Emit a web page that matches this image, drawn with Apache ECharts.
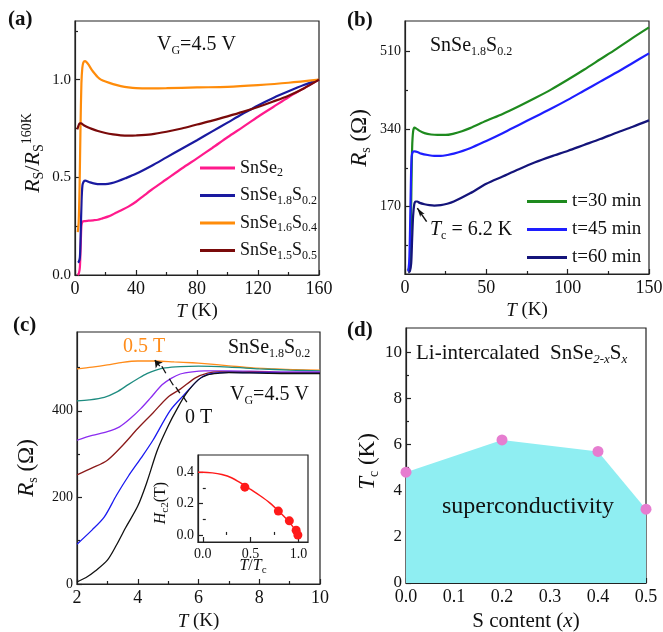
<!DOCTYPE html>
<html><head><meta charset="utf-8">
<script src="https://cdn.jsdelivr.net/npm/echarts@6/dist/echarts.min.js"></script>
<style>html,body{margin:0;padding:0;background:#fff}#c{width:663px;height:632px}</style>
</head><body><div id="c"></div>
<script>
// ---------------- DATA ----------------
// (a) normalized sheet resistance vs T
const aNames = ['SnSe2', 'SnSe1.8S0.2', 'SnSe1.6S0.4', 'SnSe1.5S0.5'];
const aSnSe2 = [[1.8,0.0],[2.6,0.01],[3.2,0.04],[3.7,0.14],[4.2,0.25],[4.8,0.272],[6,0.276],[9,0.278],[12,0.28],[15,0.283],[18,0.29],[22,0.3],[26,0.315],[30,0.33],[35,0.35],[40,0.375],[45,0.405],[50,0.435],[60,0.49],[70,0.545],[80,0.597],[90,0.65],[100,0.705],[110,0.757],[120,0.81],[130,0.86],[140,0.91],[150,0.955],[160,1.0]];
const aS02 = [[1.8,0.065],[2.5,0.068],[3.2,0.09],[3.7,0.2],[4.3,0.38],[4.9,0.46],[5.7,0.478],[6.8,0.483],[8,0.48],[10,0.474],[13,0.468],[16,0.465],[20,0.465],[24,0.47],[28,0.48],[33,0.495],[40,0.518],[50,0.558],[60,0.602],[70,0.646],[80,0.69],[90,0.735],[100,0.78],[110,0.825],[120,0.868],[130,0.906],[140,0.94],[150,0.972],[160,1.0]];
const aS04 = [[1.8,0.22],[2.4,0.27],[3,0.45],[3.6,0.75],[4.2,0.98],[4.8,1.06],[5.5,1.088],[6.5,1.095],[7.5,1.09],[9,1.075],[11,1.05],[13,1.03],[15,1.012],[17,1.0],[20,0.99],[25,0.977],[30,0.967],[35,0.96],[40,0.956],[50,0.955],[60,0.956],[80,0.96],[100,0.963],[120,0.972],[140,0.984],[160,1.0]];
const aS05 = [[1.5,0.745],[2.2,0.762],[3,0.776],[4,0.776],[5.5,0.768],[8,0.758],[11,0.748],[15,0.737],[20,0.727],[25,0.72],[30,0.715],[35,0.713],[40,0.714],[50,0.72],[60,0.733],[70,0.75],[80,0.77],[90,0.79],[100,0.812],[110,0.835],[120,0.86],[130,0.888],[140,0.918],[150,0.955],[160,1.0]];

// (b) Rs vs T for different intercalation times
const bNames = ['t=30 min', 't=45 min', 't=60 min'];
const bT30 = [[2,30],[2.8,40],[3.4,90],[3.9,200],[4.4,300],[5,335],[5.8,343],[7,341],[9,336],[12,331],[16,328],[20,327],[25,327],[30,330],[35,335],[40,342],[50,358],[60,373],[70,390],[80,408],[90,427],[100,448],[110,470],[120,493],[130,516],[140,540],[150,563]];
const bT45 = [[2,28],[2.6,50],[3.1,120],[3.6,220],[4.1,280],[4.8,290],[6,291],[8,289],[10,286],[14,283],[18,281],[22,281],[26,283],[30,286],[40,298],[50,314],[60,331],[70,349],[80,367],[90,385],[100,404],[110,424],[120,444],[130,464],[140,485],[150,506]];
const bT60 = [[2,25],[3,28],[3.8,45],[4.4,100],[5,150],[5.7,175],[6.5,181],[7.5,181],[9,178],[12,175],[15,173],[18,172],[22,173],[26,176],[30,181],[40,199],[50,220],[60,236],[70,252],[80,267],[90,280],[100,292],[110,305],[120,318],[130,332],[140,345],[150,359]];
const bArrow = [[13.3,137],[7.6,166.5]];

// (c) Rs vs T in magnetic field (0.5 T ... 0 T)
const c05T = [[2,497],[2.5,501],[3,506],[3.5,512],[4,515],[4.6,515],[5.2,513],[5.8,511],[6.2,509],[7,504],[7.8,499],[8.5,497],[9.2,495],[10,494]];
const cTeal = [[2,423],[2.4,425],[2.9,431],[3.3,443],[3.7,461],[4.0,474],[4.3,486],[4.6,494],[4.9,499],[5.4,502],[6,503],[7,501],[8,497],[9,494],[10,492]];
const cPurple = [[2,332],[2.5,343],[3,352],[3.4,363],[3.8,385],[4.1,405],[4.4,428],[4.8,460],[5.1,475],[5.4,485],[5.8,490],[6.2,492],[7,492],[8,491],[9,490],[10,490]];
const cMaroon = [[2,252],[2.5,268],[3,286],[3.5,320],[4,359],[4.5,395],[5,432],[5.4,450],[5.9,476],[6.3,487],[6.7,490],[7,490],[8,489],[9,488],[10,488]];
const cBlue = [[2,92],[2.5,125],[2.9,155],[3.3,205],[3.7,250],[4.1,290],[4.5,332],[5.06,400],[5.5,435],[6,472],[6.3,484],[6.7,488],[7,489],[8,488],[9,487],[10,487]];
const c0T = [[2,5],[2.3,15],[2.6,30],[3,55],[3.3,90],[3.6,130],[4,180],[4.3,235],[4.65,310],[5,365],[5.3,405],[5.6,440],[6,472],[6.3,483],[6.7,487],[7,488],[8,487],[9,486],[10,486]];
// Tc markers in (c): first is the arrow at 0.5 T, others short dashes
const cMarks = [
  [[4.726,503],[4.561,516.8]],
  [[4.792,503],[4.924,486.8]],
  [[5.039,474],[5.171,459]],
  [[5.253,454.5],[5.385,440.6]],
  [[5.484,433.7],[5.616,419.9]]
];

// inset: Hc2 vs T/Tc
const insetT = [0.44, 0.79, 0.905, 0.976, 0.994];
const insetH = [0.305, 0.152, 0.09, 0.03, 0.0];
const fitT = [-0.05, 0, 0.1, 0.2, 0.3, 0.4, 0.5, 0.6, 0.7, 0.8, 0.9, 1.0];
const fitH = [0.40, 0.40, 0.396, 0.385, 0.365, 0.33, 0.29, 0.25, 0.205, 0.148, 0.085, 0.005];

// (d) Tc vs S content
const dX = [0.0, 0.2, 0.4, 0.5];
const dTc = [4.8, 6.2, 5.7, 3.2];

// tick values
const aXMajor = [0,40,80,120,160], aXMinor = [20,60,100,140];
const aYMajor = [0,0.5,1.0], aYMinor = [0.25,0.75,1.25];
const bXMajor = [0,50,100,150], bXMinor = [25,75,125];
const bYMajor = [170,340,510], bYMinor = [85,255,425];
const cXMajor = [2,4,6,8,10], cXMinor = [3,5,7,9];
const cYMajor = [0,200,400], cYMinor = [100,300,500];
const dXMajor = [0,0.1,0.2,0.3,0.4,0.5], dXMinor = [0.05,0.15,0.25,0.35,0.45];
const dYMajor = [0,2,4,6,8,10], dYMinor = [1,3,5,7,9];
const iXMajor = [0,0.5,1.0], iXMinor = [0.25,0.75];
const iYMajor = [0,0.2,0.4], iYMinor = [0.1,0.3];

// ---------------- STYLE / BUILD ----------------
const FF = "'Liberation Serif','Times New Roman',serif";
const AX = '#222';
function R(F, s, color) {
  const c = color || '#111';
  const base = {fontFamily: FF, color: c, fontWeight: 'normal'};
  return {
    m: Object.assign({fontSize: F, lineHeight: F + 4}, base),
    i: Object.assign({fontSize: F, lineHeight: F + 4, fontStyle: 'italic'}, base),
    bd: Object.assign({}, base, {fontSize: F, lineHeight: F + 4, fontWeight: 'bold'}),
    b: Object.assign({fontSize: s, lineHeight: s, verticalAlign: 'bottom'}, base),
    bi: Object.assign({fontSize: s, lineHeight: s, verticalAlign: 'bottom', fontStyle: 'italic'}, base),
    p: Object.assign({fontSize: s, lineHeight: s, verticalAlign: 'top'}, base)
  };
}
const f1 = v => v.toFixed(1);

function axisPair(dim, grid, min, max, major, minor, fmt, fs, name) {
  const pos = dim === 'x' ? 'bottom' : 'left';
  const maj = {
    type: 'value', gridIndex: grid, min: min, max: max, position: pos,
    axisLine: {show: true, onZero: false, lineStyle: {color: AX, width: 1.2}},
    axisTick: {show: true, inside: true, length: 5, customValues: major, lineStyle: {color: AX, width: 1.2}},
    minorTick: {show: false},
    axisLabel: {show: true, customValues: major, formatter: fmt || (v => String(v)), fontSize: fs,
      fontFamily: FF, color: '#111', margin: dim === 'x' ? 5 : 4},
    splitLine: {show: false}
  };
  if (name) {
    maj.name = name.text;
    maj.nameLocation = 'middle';
    maj.nameGap = name.gap;
    maj.nameMoveOverlap = false;
    maj.nameTextStyle = {rich: name.rich, padding: name.padding || 0, fontWeight: 'normal'};
    if (dim === 'y') maj.nameRotate = 90;
  }
  const mn = {
    type: 'value', gridIndex: grid, min: min, max: max, position: pos,
    axisLine: {show: false},
    axisTick: {show: true, inside: true, length: 3, customValues: minor, lineStyle: {color: AX, width: 1.2}},
    axisLabel: {show: false}, splitLine: {show: false}
  };
  return [maj, mn];
}

const grids = [
  {left: 75, top: 21, width: 244, height: 254},
  {left: 405, top: 21, width: 244, height: 253},
  {left: 77, top: 332, width: 243, height: 252},
  {left: 406, top: 328, width: 240, height: 255},
  {left: 198, top: 455, width: 110, height: 87, backgroundColor: '#fff'}
].map(g => Object.assign({show: true, borderColor: AX, borderWidth: 1.2, containLabel: false, outerBoundsMode: 'none'}, g,
  g.backgroundColor ? {} : {backgroundColor: 'transparent'}));

const xAxes = [].concat(
  axisPair('x', 0, 0, 160, aXMajor, aXMinor, null, 18, {text: '{i|T}{m| (K)}', gap: 25, rich: R(19, 12)}),
  axisPair('x', 1, 0, 150, bXMajor, bXMinor, null, 18, {text: '{i|T}{m| (K)}', gap: 25, rich: R(19, 12)}),
  axisPair('x', 2, 2, 10, cXMajor, cXMinor, null, 18, {text: '{i|T}{m| (K)}', gap: 26, rich: R(19, 12)}),
  axisPair('x', 3, 0, 0.5, dXMajor, dXMinor, f1, 18, {text: '{m|S content (}{i|x}{m|)}', gap: 26, rich: R(21, 13)}),
  axisPair('x', 4, -0.05, 1.1, iXMajor, iXMinor, f1, 14, {text: '{i|T}{m|/}{i|T}{b|c}', gap: 14, rich: R(16, 11)})
);
const yAxes = [].concat(
  axisPair('y', 0, 0, 1.3, aYMajor, aYMinor, f1, 15, {text: '{i|R}{b|S}{m|/}{i|R}{b|S}{p|160K}', gap: 29, rich: R(22, 14), padding: [0, 10, 0, 0]}),
  axisPair('y', 1, 22, 577, bYMajor, bYMinor, null, 14, {text: '{i|R}{b|s}{m| (Ω)}', gap: 32, rich: R(23, 14), padding: [0, 0, 0, 19]}),
  axisPair('y', 2, 0, 582, cYMajor, cYMinor, null, 14, {text: '{i|R}{b|s}{m| (Ω)}', gap: 37, rich: R(23, 14), padding: [0, 20, 0, 0]}),
  axisPair('y', 3, 0, 11.05, dYMajor, dYMinor, null, 17, {text: '{i|T}{b|c}{m| (K)}', gap: 25, rich: R(23, 14), padding: [0, 12, 0, 0]}),
  axisPair('y', 4, -0.045, 0.51, iYMajor, iYMinor, f1, 14, {text: '{i|H}{b|c2}{m|(T)}', gap: 27, rich: R(16, 11), padding: [0, 9, 0, 0]})
);

function line(name, data, color, width, g, extra) {
  return Object.assign({
    name: name, type: 'line', data: data, xAxisIndex: 2 * g, yAxisIndex: 2 * g,
    symbol: 'none', smooth: 0.3, lineStyle: {color: color, width: width}, itemStyle: {color: color},
    animation: false, z: 3
  }, extra || {});
}

const aColors = ['#FF1A8C', '#1A1AA0', '#FF8C0A', '#7A0A0A'];
const bColors = ['#1E8A1E', '#1E1EFF', '#14147A'];

const series = [
  line(aNames[0], aSnSe2, aColors[0], 2.2, 0),
  line(aNames[1], aS02, aColors[1], 2.2, 0),
  line(aNames[2], aS04, aColors[2], 2.2, 0),
  line(aNames[3], aS05, aColors[3], 2.2, 0),
  line(bNames[0], bT30, bColors[0], 2.2, 1),
  line(bNames[1], bT45, bColors[1], 2.2, 1),
  line(bNames[2], bT60, bColors[2], 2.2, 1, {
    markLine: {silent: true, animation: false, symbol: ['none', 'arrow'], symbolSize: [4, 9],
      lineStyle: {color: '#111', width: 1.5, type: 'solid'}, label: {show: false},
      data: [[{coord: bArrow[0]}, {coord: bArrow[1]}]]}
  }),
  line('0.5 T', c05T, '#FF8C1A', 1.3, 2),
  line('c2', cTeal, '#1E8C80', 1.3, 2),
  line('c3', cPurple, '#8B2CF0', 1.3, 2),
  line('c4', cMaroon, '#8B1A1A', 1.3, 2),
  line('c5', cBlue, '#1A1AF0', 1.3, 2),
  line('0 T', c0T, '#111111', 1.3, 2, {
    markLine: {silent: true, animation: false, symbol: ['none', 'none'],
      lineStyle: {color: '#111', width: 1.3, type: 'solid'}, label: {show: false},
      data: cMarks.map((m, k) => [
        {coord: m[0], symbol: 'none'},
        {coord: m[1], symbol: k === 0 ? 'arrow' : 'none', symbolSize: 7}
      ])}
  }),
  {
    name: 'Tc', type: 'line', xAxisIndex: 6, yAxisIndex: 6, data: dX.map((x, k) => [x, dTc[k]]),
    symbol: 'circle', symbolSize: 11, showSymbol: true, smooth: false,
    lineStyle: {width: 0, opacity: 0}, itemStyle: {color: '#E67DD0'},
    areaStyle: {color: '#8FEEF2', opacity: 1}, animation: false, z: 3
  },
  line('fit', fitT.map((x, k) => [x, fitH[k]]), '#FF1A1A', 1.5, 4, {z: 5}),
  {
    name: 'Hc2', type: 'scatter', xAxisIndex: 8, yAxisIndex: 8, data: insetT.map((x, k) => [x, insetH[k]]),
    symbol: 'circle', symbolSize: 9, itemStyle: {color: '#FF1A1A', opacity: 1}, animation: false, z: 6
  }
];

const richLeg = R(18, 12);
const legendMap = {
  'SnSe2': '{m|SnSe}{b|2}',
  'SnSe1.8S0.2': '{m|SnSe}{b|1.8}{m|S}{b|0.2}',
  'SnSe1.6S0.4': '{m|SnSe}{b|1.6}{m|S}{b|0.4}',
  'SnSe1.5S0.5': '{m|SnSe}{b|1.5}{m|S}{b|0.5}'
};

function T(text, left, top, rich) {
  return {text: text, left: left, top: top, padding: 0,
    textStyle: {rich: rich, fontFamily: FF, fontWeight: 'normal'}};
}
const titles = [
  T('{bd|(a)}', 8, 7, R(21, 13)),
  T('{bd|(b)}', 347, 8, R(21, 13)),
  T('{bd|(c)}', 13, 313, R(21, 13)),
  T('{bd|(d)}', 347, 318, R(21, 13)),
  T('{m|V}{b|G}{m|=4.5 V}', 157, 33, R(20, 12)),
  T('{m|SnSe}{b|1.8}{m|S}{b|0.2}', 430, 34, R(20, 12)),
  T('{i|T}{b|c}{m| = 6.2 K}', 430, 218, R(20, 12)),
  T('{m|0.5 T}', 123, 335, R(20, 12, '#FF8C1A')),
  T('{m|SnSe}{b|1.8}{m|S}{b|0.2}', 228, 336, R(20, 12)),
  T('{m|V}{b|G}{m|=4.5 V}', 230, 383, R(20, 12)),
  T('{m|0 T}', 185, 406, R(20, 12)),
  T('{m|Li-intercalated  SnSe}{bi|2-x}{m|S}{bi|x}', 416, 341, R(21, 13)),
  T('{m|superconductivity}', 442, 493, R(24, 14))
];

const option = {
  backgroundColor: '#fff',
  animation: false,
  grid: grids,
  xAxis: xAxes,
  yAxis: yAxes,
  title: titles,
  legend: [
    {data: aNames, orient: 'vertical', left: 200, top: 159, padding: 0, itemWidth: 35, itemHeight: 3, itemGap: 7.5,
     icon: 'rect', selectedMode: false, formatter: n => legendMap[n], textStyle: {rich: richLeg, fontFamily: FF}},
    {data: bNames, orient: 'vertical', left: 527, top: 192, padding: 0, itemWidth: 40, itemHeight: 3, itemGap: 9,
     icon: 'rect', selectedMode: false, formatter: n => '{m|' + n + '}', textStyle: {rich: R(19, 12), fontFamily: FF}}
  ],
  series: series
};

const chart = echarts.init(document.getElementById('c'), null, {renderer: 'canvas'});
chart.setOption(option);
</script>
</body></html>
